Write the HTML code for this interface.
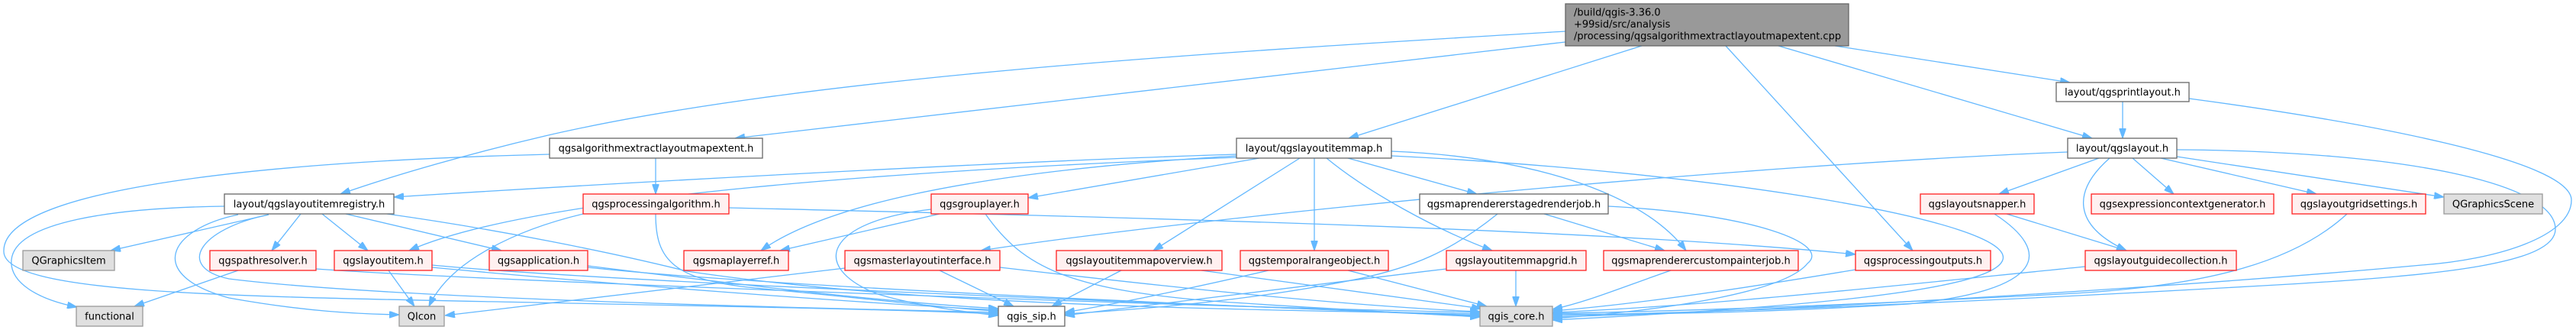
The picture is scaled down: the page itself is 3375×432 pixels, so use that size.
<!DOCTYPE html>
<html><head><meta charset="utf-8"><style>
html,body{margin:0;padding:0;background:#fff;}
svg{display:block;}
text{font-family:"DejaVu Sans","Liberation Sans",sans-serif;font-size:13px;fill:#000;}
.e{fill:none;stroke:#63b8ff;stroke-width:1.3;marker-end:url(#ah);}
.w{fill:#fff;stroke:#666;stroke-width:1.3;}
.r{fill:#fff0f0;stroke:#ff2020;stroke-width:1.3;}
.g{fill:#e0e0e0;stroke:#999;stroke-width:1.3;}
.t{text-anchor:middle;}
</style></head><body>
<svg width="3375" height="432" viewBox="0 0 3375 432" xmlns="http://www.w3.org/2000/svg">
<defs>
<marker id="ah" viewBox="0 0 13 9" markerWidth="13" markerHeight="9" refX="13" refY="4.5" orient="auto" markerUnits="userSpaceOnUse"><path d="M0,0L13,4.5L0,9z" fill="#63b8ff" stroke="#63b8ff"/></marker>
</defs>
<g>
<path class="e" d="M2051,55 L963,181"/>
<path class="e" d="M2051,41 C1600,68 1050,100 714,178 C620,200 520,228 446,254"/>
<path class="e" d="M2151,60 L1767,181"/>
<path class="e" d="M2261,60 L2506,328"/>
<path class="e" d="M2330,60 L2741,181"/>
<path class="e" d="M2404,60 L2712,108"/>
<path class="e" d="M2781,133 L2781,181"/>
<path class="e" d="M2868,129 C3100,160 3369,210 3369,262 C3369,310 3270,340 3173,347 C2900,372 2400,405 2034,415"/>
<path class="e" d="M2852,196 C3150,198 3348,240 3348,300 C3348,345 3200,360 3000,372 C2650,392 2300,408 2034,413"/>
<path class="e" d="M2750,207 L2619,254"/>
<path class="e" d="M2794,207 L2848,254"/>
<path class="e" d="M2831,207 L3035,254"/>
<path class="e" d="M2852,205 L3202,258"/>
<path class="e" d="M2764,207 C2715,250 2715,295 2786,328"/>
<path class="e" d="M2709,199 C2300,215 1600,280 1285,328"/>
<path class="e" d="M2629,280 L2786,328"/>
<path class="e" d="M2613,280 C2690,330 2680,380 2500,398 C2300,410 2150,412 2034,411"/>
<path class="e" d="M3075,280 C3010,340 2900,375 2700,385 C2450,398 2200,408 2034,410"/>
<path class="e" d="M2732,349 C2500,372 2250,400 2034,409"/>
<path class="e" d="M2431,353 C2300,375 2150,398 2034,407"/>
<path class="e" d="M2189,354 C2120,378 2080,395 2034,405"/>
<path class="e" d="M2023,280 L2181,328"/>
<path class="e" d="M2107,270 C2300,280 2400,320 2368,345 C2340,380 2200,405 2034,417"/>
<path class="e" d="M1962,280 C1900,330 1850,350 1780,365 C1650,392 1500,405 1395,411"/>
<path class="e" d="M1620,202 C1300,212 800,240 516,258"/>
<path class="e" d="M1620,206 C1200,222 700,255 536,328"/>
<path class="e" d="M1621,204 C1350,220 1100,255 997,328"/>
<path class="e" d="M1650,207 L1347,259"/>
<path class="e" d="M1703,207 L1511,328"/>
<path class="e" d="M1722,207 L1722,328"/>
<path class="e" d="M1738,207 C1790,250 1880,300 1955,328"/>
<path class="e" d="M1766,207 L1935,254"/>
<path class="e" d="M1823,198 C2000,205 2150,250 2209,328"/>
<path class="e" d="M1823,204 C2250,225 2640,290 2624,340 C2610,385 2300,405 2034,419"/>
<path class="e" d="M859,207 L859,254"/>
<path class="e" d="M955,272 C1500,285 2100,300 2431,333"/>
<path class="e" d="M764,280 C680,300 590,340 562,401"/>
<path class="e" d="M859,280 C859,340 880,368 1000,378 C1150,392 1250,405 1308,407"/>
<path class="e" d="M1231,280 L1022,328"/>
<path class="e" d="M1220,274 C1080,290 1060,350 1150,385 C1200,400 1260,408 1308,413"/>
<path class="e" d="M1291,280 C1340,350 1400,380 1600,395 C1750,405 1850,410 1939,415"/>
<path class="e" d="M1107,351 C900,375 700,400 583,413"/>
<path class="e" d="M1231,354 L1328,401"/>
<path class="e" d="M1310,350 C1500,372 1750,400 1939,408"/>
<path class="e" d="M1469,354 L1378,401"/>
<path class="e" d="M1574,354 L1941,404"/>
<path class="e" d="M1662,354 C1550,380 1450,400 1395,409"/>
<path class="e" d="M1766,354 L1948,401"/>
<path class="e" d="M1986,354 L1986,401"/>
<path class="e" d="M1895,352 C1700,375 1500,400 1395,413"/>
<path class="e" d="M294,270 C150,272 20,290 15,340 C12,370 50,392 101,402"/>
<path class="e" d="M352,281 L145,328"/>
<path class="e" d="M312,281 C220,300 190,360 300,390 C400,408 470,411 523,412"/>
<path class="e" d="M352,281 C260,300 230,350 300,365 C500,390 1000,402 1308,409"/>
<path class="e" d="M394,280 L356,328"/>
<path class="e" d="M422,280 L482,328"/>
<path class="e" d="M453,280 L657,328"/>
<path class="e" d="M507,280 C650,300 800,330 900,355 C1200,400 1600,405 1939,411"/>
<path class="e" d="M720,202 C400,210 0,240 5,330 C8,385 300,388 700,396 C1000,402 1200,406 1308,411"/>
<path class="e" d="M312,354 L176,401"/>
<path class="e" d="M414,352 C600,366 1500,400 1939,409"/>
<path class="e" d="M509,354 L543,401"/>
<path class="e" d="M566,347 C800,370 1600,400 1939,413"/>
<path class="e" d="M770,350 C1000,375 1600,400 1939,414"/>
<path class="e" d="M770,348 C950,370 1150,395 1308,404"/>
<path class="e" d="M566,350 C800,372 1100,395 1308,406"/>
</g>
<g>
<rect x="2051" y="5" width="371" height="55" fill="#999" stroke="#666" stroke-width="1.3"/>
<text x="2062" y="20.5">/build/qgis-3.36.0</text>
<text x="2062" y="36">+99sid/src/analysis</text>
<text x="2062" y="51.5">/processing/qgsalgorithmextractlayoutmapextent.cpp</text>

<rect class="w" x="2694" y="108" width="174" height="25"/><text class="t" x="2781" y="125">layout/qgsprintlayout.h</text>
<rect class="w" x="2709" y="181" width="143" height="26"/><text class="t" x="2780.5" y="198.5">layout/qgslayout.h</text>
<rect class="w" x="720" y="181" width="279" height="26"/><text class="t" x="859.5" y="198.5">qgsalgorithmextractlayoutmapextent.h</text>
<rect class="w" x="1620" y="181" width="203" height="26"/><text class="t" x="1721.5" y="198.5">layout/qgslayoutitemmap.h</text>

<rect class="w" x="294" y="254" width="222" height="26"/><text class="t" x="405" y="271.5">layout/qgslayoutitemregistry.h</text>
<rect class="r" x="764" y="254" width="191" height="26"/><text class="t" x="859.5" y="271.5">qgsprocessingalgorithm.h</text>
<rect class="r" x="1220" y="254" width="127" height="26"/><text class="t" x="1283.5" y="271.5">qgsgrouplayer.h</text>
<rect class="w" x="1860" y="254" width="247" height="26"/><text class="t" x="1983.5" y="271.5">qgsmaprendererstagedrenderjob.h</text>
<rect class="r" x="2516" y="254" width="149" height="26"/><text class="t" x="2590.5" y="271.5">qgslayoutsnapper.h</text>
<rect class="r" x="2740" y="254" width="239" height="26"/><text class="t" x="2859.5" y="271.5">qgsexpressioncontextgenerator.h</text>
<rect class="r" x="3003" y="254" width="175" height="26"/><text class="t" x="3090.5" y="271.5">qgslayoutgridsettings.h</text>
<rect class="g" x="3202" y="254" width="129" height="26"/><text class="t" x="3266.5" y="271.5">QGraphicsScene</text>

<rect class="g" x="30" y="328" width="120" height="26"/><text class="t" x="90" y="345.5">QGraphicsItem</text>
<rect class="r" x="275" y="328" width="139" height="26"/><text class="t" x="344.5" y="345.5">qgspathresolver.h</text>
<rect class="r" x="438" y="328" width="128" height="26"/><text class="t" x="502" y="345.5">qgslayoutitem.h</text>
<rect class="r" x="641" y="328" width="129" height="26"/><text class="t" x="705.5" y="345.5">qgsapplication.h</text>
<rect class="r" x="896" y="328" width="137" height="26"/><text class="t" x="964.5" y="345.5">qgsmaplayerref.h</text>
<rect class="r" x="1107" y="328" width="203" height="26"/><text class="t" x="1208.5" y="345.5">qgsmasterlayoutinterface.h</text>
<rect class="r" x="1384" y="328" width="217" height="26"/><text class="t" x="1492.5" y="345.5">qgslayoutitemmapoverview.h</text>
<rect class="r" x="1625" y="328" width="194" height="26"/><text class="t" x="1722" y="345.5">qgstemporalrangeobject.h</text>
<rect class="r" x="1895" y="328" width="183" height="26"/><text class="t" x="1986.5" y="345.5">qgslayoutitemmapgrid.h</text>
<rect class="r" x="2101" y="328" width="255" height="26"/><text class="t" x="2228.5" y="345.5">qgsmaprenderercustompainterjob.h</text>
<rect class="r" x="2431" y="328" width="177" height="26"/><text class="t" x="2519.5" y="345.5">qgsprocessingoutputs.h</text>
<rect class="r" x="2732" y="328" width="198" height="26"/><text class="t" x="2831" y="345.5">qgslayoutguidecollection.h</text>

<rect class="g" x="100" y="401" width="87" height="26"/><text class="t" x="143.5" y="418.5">functional</text>
<rect class="g" x="523" y="401" width="59" height="26"/><text class="t" x="552.5" y="418.5">QIcon</text>
<rect class="w" x="1308" y="401" width="87" height="26"/><text class="t" x="1351.5" y="418.5">qgis_sip.h</text>
<rect class="g" x="1939" y="401" width="95" height="26"/><text class="t" x="1986.5" y="418.5">qgis_core.h</text>
</g>
</svg>
</body></html>
